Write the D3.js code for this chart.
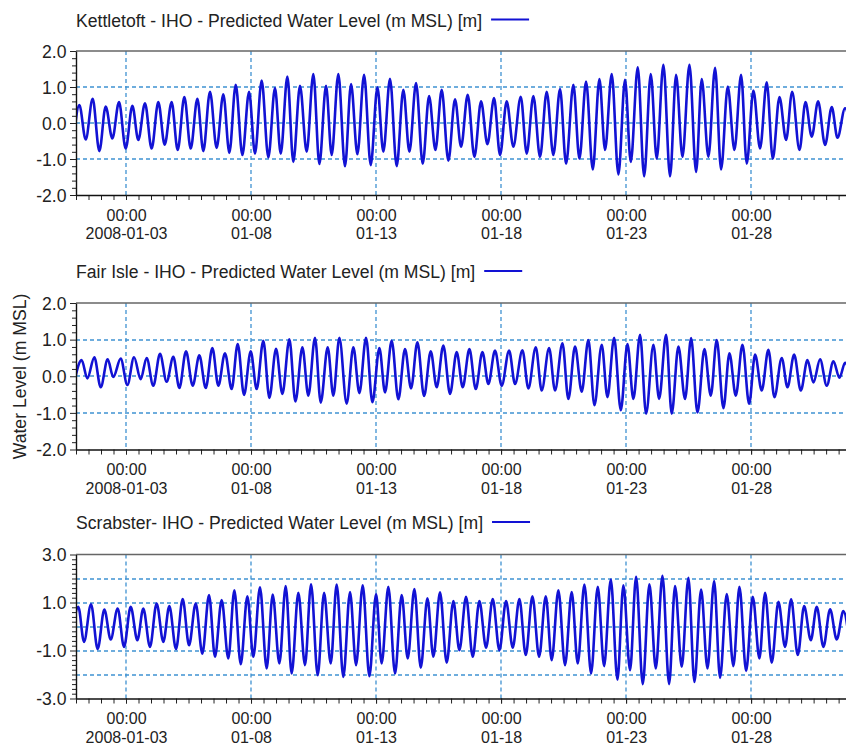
<!DOCTYPE html>
<html>
<head>
<meta charset="utf-8">
<script src="https://cdn.jsdelivr.net/npm/d3@7"></script>
<style>
  body { margin: 0; background: #fff; }
  svg { display: block; }
  text { font-family: "Liberation Sans", Arial, sans-serif; fill: #222; }
</style>
</head>
<body>
<svg id="chart" width="846" height="746"></svg>
<script>
// ---- data: predicted tide extrema (hours after 2008-01-01 00:00 UTC, level in m MSL) ----
const stationTitles = [
  "Kettletoft - IHO - Predicted Water Level (m MSL) [m]",
  "Fair Isle - IHO - Predicted Water Level (m MSL) [m]",
  "Scrabster- IHO - Predicted Water Level (m MSL) [m]"
];

const kettletoftHours = [-2.5, 3.2, 9.3, 16.0, 22.4, 28.5, 34.9, 41.3, 47.7, 54.1, 59.8, 66.2, 72.6, 79.0, 85.1, 91.8, 97.6, 104.0, 110.1, 116.5, 122.2, 128.6, 135.0, 141.4, 147.2, 153.3, 159.7, 166.1, 171.8, 178.2, 184.6, 191.0, 196.5, 202.9, 208.6, 215.0, 221.4, 227.8, 233.6, 240.0, 245.4, 251.8, 258.2, 264.0, 270.1, 276.5, 282.9, 289.3, 295.0, 301.4, 307.8, 314.2, 320.0, 326.4, 332.8, 338.9, 345.0, 351.0, 357.4, 363.8, 369.6, 376.0, 382.4, 388.8, 394.9, 401.3, 407.0, 413.4, 419.8, 426.9, 432.6, 439.0, 445.4, 451.8, 458.2, 464.6, 470.4, 477.4, 483.2, 489.6, 496.0, 502.4, 507.8, 514.2, 520.6, 527.0, 532.5, 539.2, 545.3, 551.7, 557.4, 563.8, 570.2, 576.0, 582.1, 588.8, 595.2, 600.6, 607.0, 613.4, 619.2, 625.6, 632.0, 638.4, 643.8, 650.2, 656.6, 663.0, 668.8, 675.2, 681.6, 687.4, 694.4, 700.2, 706.2, 712.3, 719.0, 725.4, 730.9, 738.2, 744.5];
const kettletoftLevels = [-0.55, 0.50, -0.46, 0.67, -0.78, 0.46, -0.43, 0.58, -0.71, 0.48, -0.47, 0.55, -0.71, 0.58, -0.60, 0.58, -0.75, 0.72, -0.71, 0.67, -0.78, 0.87, -0.69, 0.80, -0.83, 1.06, -0.89, 0.87, -0.85, 1.18, -0.96, 0.97, -0.85, 1.29, -1.08, 1.03, -0.80, 1.36, -1.14, 1.03, -0.89, 1.36, -1.20, 1.08, -0.87, 1.34, -1.17, 0.99, -0.80, 1.23, -1.20, 0.92, -0.80, 1.11, -1.13, 0.75, -0.75, 0.92, -1.05, 0.66, -0.66, 0.78, -0.94, 0.60, -0.59, 0.69, -0.89, 0.60, -0.66, 0.73, -0.85, 0.75, -0.94, 0.87, -0.89, 0.94, -1.13, 1.06, -0.99, 1.15, -1.29, 1.22, -0.75, 1.36, -1.43, 1.20, -1.08, 1.55, -1.48, 1.36, -0.99, 1.62, -1.48, 1.34, -0.94, 1.62, -1.36, 1.22, -0.94, 1.53, -1.29, 1.01, -0.75, 1.34, -1.13, 0.90, -0.71, 1.13, -0.99, 0.72, -0.47, 0.87, -0.75, 0.58, -0.38, 0.60, -0.61, 0.44, -0.41, 0.41, -0.45];

const fairIsleHours = [-2.0, 5.4, 10.9, 17.6, 23.7, 30.4, 35.8, 42.9, 49.3, 55.7, 62.1, 67.8, 74.2, 80.6, 87.0, 93.4, 99.2, 105.6, 112.0, 118.4, 124.5, 130.9, 136.6, 143.0, 149.4, 155.2, 161.3, 167.7, 173.4, 179.8, 185.6, 192.0, 198.1, 204.8, 210.6, 217.3, 223.0, 229.4, 234.9, 241.6, 247.0, 252.8, 259.8, 266.2, 272.0, 278.4, 284.5, 291.2, 296.6, 303.0, 309.4, 315.8, 321.6, 327.7, 334.1, 340.5, 346.2, 352.6, 359.0, 365.4, 371.2, 377.6, 383.7, 390.1, 395.8, 402.2, 408.6, 415.7, 421.4, 428.5, 434.2, 441.3, 447.0, 454.1, 459.8, 466.9, 472.6, 479.0, 485.4, 491.8, 497.6, 504.6, 510.1, 516.5, 522.9, 529.3, 535.0, 541.4, 547.2, 554.2, 559.7, 566.4, 571.8, 578.2, 584.6, 590.4, 596.5, 603.2, 609.3, 615.0, 621.4, 627.2, 633.3, 639.7, 646.1, 651.8, 658.2, 664.6, 670.4, 677.4, 682.9, 689.3, 695.7, 702.1, 707.8, 714.2, 720.6, 727.0, 732.8, 738.2, 744.0];
const fairIsleLevels = [-0.20, 0.44, -0.06, 0.52, -0.30, 0.46, -0.02, 0.48, -0.24, 0.52, -0.08, 0.50, -0.26, 0.61, -0.15, 0.53, -0.32, 0.68, -0.26, 0.57, -0.32, 0.77, -0.26, 0.63, -0.35, 0.88, -0.51, 0.68, -0.35, 0.97, -0.59, 0.75, -0.48, 1.01, -0.69, 0.79, -0.53, 1.05, -0.72, 0.79, -0.53, 1.05, -0.75, 0.79, -0.46, 1.05, -0.71, 0.77, -0.44, 0.97, -0.63, 0.74, -0.33, 0.93, -0.54, 0.68, -0.30, 0.84, -0.48, 0.66, -0.30, 0.74, -0.35, 0.66, -0.21, 0.70, -0.26, 0.70, -0.21, 0.71, -0.33, 0.79, -0.39, 0.77, -0.39, 0.90, -0.62, 0.81, -0.42, 0.99, -0.79, 0.86, -0.57, 1.05, -0.93, 0.88, -0.62, 1.13, -1.02, 0.86, -0.62, 1.13, -1.02, 0.81, -0.62, 1.04, -0.99, 0.74, -0.53, 0.99, -0.87, 0.63, -0.53, 0.86, -0.75, 0.59, -0.39, 0.72, -0.57, 0.50, -0.30, 0.59, -0.39, 0.44, -0.17, 0.46, -0.26, 0.41, -0.04, 0.37, -0.15];

const scrabsterHours = [-4.0, 2.2, 7.7, 14.4, 20.8, 27.2, 33.3, 40.0, 46.1, 52.5, 58.9, 64.6, 71.0, 77.4, 83.8, 89.6, 96.0, 102.4, 108.5, 114.9, 121.3, 127.7, 133.4, 139.8, 146.2, 152.0, 158.1, 164.5, 170.2, 176.6, 183.0, 188.8, 195.2, 201.3, 207.0, 213.4, 219.8, 225.6, 232.0, 238.1, 244.5, 250.2, 256.6, 263.0, 268.8, 275.2, 281.6, 288.0, 293.4, 299.8, 306.2, 312.6, 318.4, 324.8, 330.9, 337.3, 343.0, 349.4, 355.8, 362.2, 368.0, 374.4, 380.8, 387.2, 393.6, 400.0, 406.4, 412.8, 419.2, 425.6, 431.7, 438.1, 444.5, 450.9, 456.6, 463.0, 469.4, 475.8, 481.6, 488.0, 494.4, 500.8, 506.9, 513.3, 519.7, 525.4, 531.8, 537.6, 544.0, 550.4, 556.5, 562.9, 569.3, 575.0, 581.4, 587.8, 593.6, 600.0, 606.1, 612.5, 618.2, 624.6, 631.0, 636.8, 643.2, 649.6, 656.0, 661.4, 667.8, 674.2, 680.6, 686.4, 692.8, 698.9, 705.3, 711.0, 717.4, 723.8, 730.2, 736.6, 742.5];
const scrabsterLevels = [-0.60, 0.82, -0.64, 0.93, -0.94, 0.71, -0.54, 0.75, -0.85, 0.82, -0.57, 0.75, -0.85, 0.96, -0.64, 0.85, -0.94, 1.14, -0.78, 0.96, -1.13, 1.31, -1.26, 1.10, -1.33, 1.51, -1.57, 1.26, -1.26, 1.63, -1.75, 1.33, -1.54, 1.69, -1.96, 1.40, -1.61, 1.76, -2.03, 1.40, -1.54, 1.75, -2.10, 1.44, -1.61, 1.72, -2.07, 1.35, -1.54, 1.65, -1.96, 1.31, -1.33, 1.56, -1.72, 1.17, -1.26, 1.42, -1.51, 1.06, -0.99, 1.24, -1.26, 1.06, -0.88, 1.14, -0.99, 1.06, -0.88, 1.14, -1.19, 1.26, -1.26, 1.26, -1.40, 1.51, -1.61, 1.44, -1.54, 1.75, -1.96, 1.65, -1.65, 1.96, -2.21, 1.72, -1.82, 2.07, -2.40, 1.76, -1.75, 2.11, -2.40, 1.69, -1.68, 2.03, -2.31, 1.54, -1.75, 1.89, -2.14, 1.35, -1.65, 1.65, -1.85, 1.24, -1.33, 1.40, -1.51, 1.03, -0.85, 1.13, -1.19, 0.85, -0.57, 0.82, -0.85, 0.72, -0.54, 0.64, -0.70];

// ---- axis ticks ----
const dateTicks = ["2008-01-03", "2008-01-08", "2008-01-13", "2008-01-18", "2008-01-23", "2008-01-28"];
const timeTickLabels = ["00:00", "00:00", "00:00", "00:00", "00:00", "00:00"];
const dateTickLabels = ["2008-01-03", "01-08", "01-13", "01-18", "01-23", "01-28"];

const smallLevelTicks = [2, 1, 0, -1, -2];
const smallLevelLabels = ["2.0", "1.0", "0.0", "-1.0", "-2.0"];
const smallLevelGrid = [1, 0, -1];
const largeLevelTicks = [3, 1, -1, -3];
const largeLevelLabels = ["3.0", "1.0", "-1.0", "-3.0"];
const largeLevelGrid = [2, 1, 0, -1, -2];

const yAxisTitle = "Water Level (m MSL)";

// ---- layout ----
const svg = d3.select("#chart");
const plotLeft = 76, plotRight = 848;
const gridColor = "#3f92d2";
const lineColor = "#1212d4";
const fontSize = "17.6px";
const xTickFont = "16px";
const startMs = Date.UTC(2008, 0, 1);
const hourToDate = h => new Date(startMs + h * 3600000);

const x = d3.scaleUtc()
  .domain([new Date(startMs), new Date(Date.UTC(2008, 0, 31, 21))])
  .range([plotLeft, plotRight]);

const tickDateObjs = dateTicks.map(s => new Date(s + "T00:00:00Z"));
const halfDayTicks = d3.utcHour.every(12).range(x.domain()[0], x.domain()[1]);

const panels = [
  { title: stationTitles[0], hours: kettletoftHours, levels: kettletoftLevels,
    domain: [-2, 2], ticks: smallLevelTicks, labels: smallLevelLabels, grid: smallLevelGrid,
    top: 51, bottom: 195, titleY: 26.5 },
  { title: stationTitles[1], hours: fairIsleHours, levels: fairIsleLevels,
    domain: [-2, 2], ticks: smallLevelTicks, labels: smallLevelLabels, grid: smallLevelGrid,
    top: 303, bottom: 449.5, titleY: 278 },
  { title: stationTitles[2], hours: scrabsterHours, levels: scrabsterLevels,
    domain: [-3, 3], ticks: largeLevelTicks, labels: largeLevelLabels, grid: largeLevelGrid,
    top: 554.5, bottom: 698.5, titleY: 529 }
];

const defs = svg.append("defs");

panels.forEach((p, k) => {
  const y = d3.scaleLinear().domain(p.domain).range([p.bottom, p.top]);
  const g = svg.append("g");

  defs.append("clipPath").attr("id", "plot-clip-" + k)
    .append("rect")
    .attr("x", plotLeft).attr("y", p.top)
    .attr("width", plotRight - plotLeft).attr("height", p.bottom - p.top);

  // horizontal grid
  g.append("g").selectAll("line").data(p.grid).join("line")
    .attr("x1", plotLeft).attr("x2", plotRight)
    .attr("y1", d => Math.round(y(d))).attr("y2", d => Math.round(y(d)))
    .attr("stroke", gridColor).attr("stroke-width", 1.3)
    .attr("stroke-dasharray", "4,3");

  // vertical grid
  g.append("g").selectAll("line").data(tickDateObjs).join("line")
    .attr("x1", d => Math.round(x(d))).attr("x2", d => Math.round(x(d)))
    .attr("y1", p.top).attr("y2", p.bottom)
    .attr("stroke", gridColor).attr("stroke-width", 1.3)
    .attr("stroke-dasharray", "4,3");

  // top frame line
  g.append("line")
    .attr("x1", plotLeft).attr("x2", plotRight)
    .attr("y1", p.top).attr("y2", p.top)
    .attr("stroke", "#666").attr("stroke-width", 1.4);

  // tide curve
  const pts = d3.zip(p.hours, p.levels);
  const line = d3.line()
    .x(d => x(hourToDate(d[0])))
    .y(d => y(d[1]))
    .curve(d3.curveMonotoneX);
  g.append("path").datum(pts)
    .attr("clip-path", `url(#plot-clip-${k})`)
    .attr("fill", "none")
    .attr("stroke", lineColor)
    .attr("stroke-width", 2.6)
    .attr("stroke-linejoin", "round")
    .attr("d", line);

  // y axis: minor ticks every 0.2
  const step = 0.2;
  const minor = d3.range(Math.round(p.domain[0] / step), Math.round(p.domain[1] / step) + 1)
    .map(i => +(i * step).toFixed(2))
    .filter(v => !p.ticks.includes(v));
  const ym = g.append("g")
    .attr("transform", `translate(${plotLeft},0)`)
    .call(d3.axisLeft(y).tickValues(minor).tickSize(4).tickSizeOuter(0).tickFormat(""));
  ym.select(".domain").remove();
  ym.selectAll(".tick text").remove();
  ym.selectAll("line").attr("stroke", "#222");

  // y axis: major ticks with labels
  const ya = g.append("g")
    .attr("transform", `translate(${plotLeft},0)`)
    .call(d3.axisLeft(y).tickValues(p.ticks).tickSize(6).tickSizeOuter(0)
      .tickFormat((d, i) => p.labels[i]));
  ya.select(".domain").attr("stroke", "#111").attr("stroke-width", 1.4);
  ya.selectAll("line").attr("stroke", "#222");
  ya.selectAll("text").attr("font-size", fontSize).attr("fill", "#222")
    .attr("font-family", '"Liberation Sans", Arial, sans-serif')
    .attr("dy", "0.36em").attr("x", -9.5);

  // x axis: half-day minor ticks
  const xm = g.append("g")
    .attr("transform", `translate(0,${p.bottom})`)
    .call(d3.axisBottom(x).tickValues(halfDayTicks).tickSize(5).tickSizeOuter(0).tickFormat(""));
  xm.select(".domain").remove();
  xm.selectAll(".tick text").remove();
  xm.selectAll("line").attr("stroke", "#222");

  // x axis: labelled ticks, time over date
  const xa = g.append("g")
    .attr("transform", `translate(0,${p.bottom})`)
    .call(d3.axisBottom(x).tickValues(tickDateObjs).tickSize(5).tickSizeOuter(0).tickFormat(""));
  xa.selectAll(".tick text").remove();
  xa.select(".domain").attr("stroke", "#111").attr("stroke-width", 1.4);
  xa.selectAll("line").attr("stroke", "#222");
  const ticks = xa.selectAll(".tick");
  ticks.append("text")
    .attr("y", 25.8).attr("text-anchor", "middle")
    .attr("font-size", xTickFont).attr("fill", "#222")
    .text((d, i) => timeTickLabels[i]);
  ticks.append("text")
    .attr("y", 44).attr("text-anchor", "middle")
    .attr("font-size", xTickFont).attr("fill", "#222")
    .text((d, i) => dateTickLabels[i]);

  // title + legend swatch
  const t = g.append("text")
    .attr("x", plotLeft).attr("y", p.titleY)
    .attr("font-size", fontSize).attr("fill", "#222")
    .text(p.title);
  const tw = t.node().getComputedTextLength();
  g.append("line")
    .attr("x1", plotLeft + tw + 9).attr("x2", plotLeft + tw + 47)
    .attr("y1", p.titleY - 7).attr("y2", p.titleY - 7)
    .attr("stroke", lineColor).attr("stroke-width", 2.2);
});

// shared y axis title
svg.append("text")
  .attr("transform", "translate(26,376.5) rotate(-90)")
  .attr("text-anchor", "middle")
  .attr("font-size", fontSize).attr("fill", "#222")
  .text(yAxisTitle);
</script>
</body>
</html>
